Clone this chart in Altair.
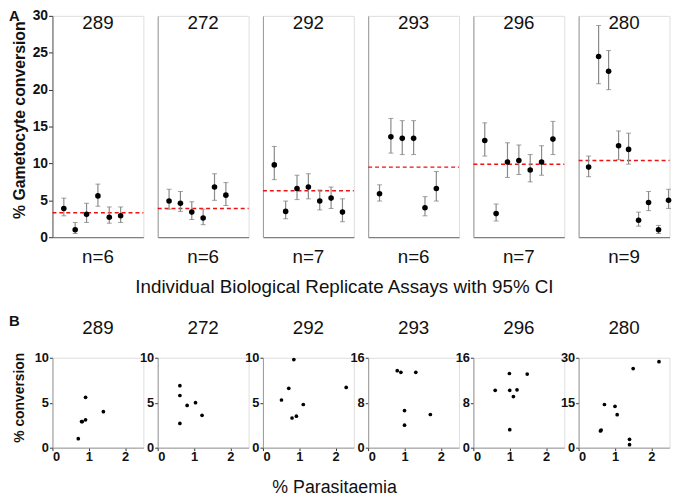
import altair as alt
import pandas as pd

panels = ["289", "272", "292", "293", "296", "280"]
n_labels = ["n=6", "n=6", "n=7", "n=6", "n=7", "n=9"]

# Panel A: % gametocyte conversion per replicate with 95% CI
conv_A = [
    [3.9, 1.0, 3.1, 5.6, 2.7, 2.9],
    [4.9, 4.6, 3.4, 2.6, 6.8, 5.7],
    [9.8, 3.5, 6.6, 6.8, 4.9, 5.3, 3.4],
    [5.9, 13.6, 13.4, 13.4, 4.0, 6.6],
    [13.1, 3.2, 10.2, 10.4, 9.1, 10.2, 13.3],
    [9.5, 24.5, 22.5, 12.4, 11.9, 2.3, 4.7, 1.0, 5.0],
]
lo_A = [
    [2.9, 0.5, 2.0, 4.2, 1.9, 2.0],
    [3.8, 3.5, 2.4, 1.7, 5.0, 4.3],
    [7.8, 2.5, 5.1, 5.2, 3.7, 3.9, 2.1],
    [4.9, 11.4, 11.2, 11.2, 2.9, 4.9],
    [11.0, 2.2, 8.1, 8.5, 7.5, 8.4, 11.2],
    [8.2, 20.8, 20.0, 10.5, 9.9, 1.5, 3.6, 0.5, 3.9],
]
hi_A = [
    [5.3, 2.0, 4.6, 7.2, 4.1, 4.1],
    [6.5, 6.2, 4.8, 3.8, 8.6, 7.4],
    [12.3, 4.9, 8.4, 8.6, 6.4, 6.8, 5.2],
    [7.1, 16.1, 15.8, 15.8, 5.5, 8.9],
    [15.5, 4.5, 12.8, 12.5, 11.2, 12.4, 15.7],
    [11.0, 28.7, 25.3, 14.4, 14.1, 3.4, 6.2, 1.6, 6.5],
]
mean_A = [3.3, 3.9, 6.3, 9.5, 9.9, 10.4]
yticks_A = [0, 5, 10, 15, 20, 25, 30]

# Panel B: % conversion vs % parasitaemia
para_B = [
    [0.71, 0.80, 0.82, 0.91, 0.91, 1.40],
    [0.61, 0.61, 0.61, 0.81, 1.04, 1.22],
    [0.85, 0.71, 0.51, 0.80, 0.92, 1.11, 2.29],
    [0.80, 0.90, 1.31, 1.00, 1.00, 1.71],
    [0.99, 1.48, 0.60, 1.00, 1.20, 1.10, 1.00],
    [0.60, 0.62, 0.71, 1.00, 1.06, 1.50, 2.21, 1.40, 1.40],
]
conv_B = [
    [1.0, 2.9, 2.9, 3.1, 5.6, 4.0],
    [6.9, 5.8, 2.7, 4.7, 5.0, 3.6],
    [9.8, 6.6, 5.3, 3.3, 3.5, 4.8, 6.7],
    [13.7, 13.4, 13.4, 6.6, 4.0, 5.9],
    [13.2, 13.1, 10.2, 10.2, 10.3, 9.1, 3.2],
    [5.6, 5.9, 14.4, 13.8, 11.0, 26.4, 28.7, 2.8, 1.0],
]
ymax_B = [10, 10, 10, 16, 16, 30]
yticks_B = [[0, 5, 10], [0, 5, 10], [0, 5, 10], [0, 8, 16], [0, 8, 16], [0, 15, 30]]
xticks_B = [0, 1, 2]

title_A = "% Gametocyte conversion"
xlabel_A = "Individual Biological Replicate Assays with 95% CI"
title_B = "% conversion"
xlabel_B = "% Parasitaemia"

FONT = "Liberation Sans"
W = 92
HA = 224
HB = 91
TXT = "#111111"


def txt(s, x, y, size, weight="normal", align="center"):
    return alt.Chart(pd.DataFrame({"t": [s]})).mark_text(
        font=FONT, fontSize=size, fontWeight=weight, align=align,
        baseline="middle", color=TXT
    ).encode(text="t:N", x=alt.value(x), y=alt.value(y))


def panel_A(i):
    n = len(conv_A[i])
    df = pd.DataFrame({"rep": list(range(1, n + 1)), "conv": conv_A[i],
                       "lo": lo_A[i], "hi": hi_A[i]})
    xdom = [0, 8] if n <= 7 else [0, n + 0.1]
    first = i == 0
    if first:
        yaxis = alt.Axis(values=yticks_A, grid=False, labelFont=FONT, labelFontWeight="bold",
                         labelFontSize=14, labelColor=TXT, tickColor="#333", tickSize=4,
                         labelPadding=1, labelOverlap=False, domainColor="#555",
                         titleFont=FONT, titleFontSize=16, titleFontWeight="bold",
                         titlePadding=5, titleColor=TXT, titleY=105)
        ytitle = title_A
    else:
        yaxis = alt.Axis(labels=False, ticks=False, grid=False, domainColor="#999")
        ytitle = None
    xaxis = alt.Axis(labels=False, ticks=False, grid=False, domainColor="#666")
    xs = alt.Scale(domain=xdom, nice=False, zero=False)
    ys = alt.Scale(domain=[0, 30], nice=False)

    def X():
        return alt.X("rep:Q", scale=xs, axis=xaxis, title=None)

    def Y(f):
        return alt.Y(f"{f}:Q", scale=ys, axis=yaxis, title=ytitle)

    base = alt.Chart(df)
    bars = base.mark_rule(color="#8a8a8a", strokeWidth=1.2).encode(x=X(), y=Y("lo"), y2="hi:Q")
    cap_lo = base.mark_tick(orient="horizontal", size=5, thickness=1, color="#777").encode(
        x=X(), y=Y("lo"))
    cap_hi = base.mark_tick(orient="horizontal", size=5, thickness=1, color="#777").encode(
        x=X(), y=Y("hi"))
    pts = base.mark_circle(size=32, color="black", opacity=1).encode(x=X(), y=Y("conv"))
    mean = alt.Chart(pd.DataFrame({"m": [mean_A[i]]})).mark_rule(
        color="#ee1111", strokeDash=[4, 3], strokeWidth=1.5
    ).encode(y=Y("m"), x=alt.value(0), x2=alt.value(W))
    layers = [mean, bars, cap_lo, cap_hi, pts,
              txt(panels[i], W / 2, 7, 19),
              txt(n_labels[i], W / 2, HA + 20, 19)]
    if first:
        layers.append(txt("A", -44, 0, 15, "bold", "left"))
        layers.append(txt(xlabel_A, 295.5, HA + 50, 19))
    return alt.layer(*layers).properties(width=W, height=HA)


def panel_B(i):
    df = pd.DataFrame({"para": para_B[i], "conv": conv_B[i]})
    first = i == 0
    yaxis = alt.Axis(values=yticks_B[i], grid=False, labelFont=FONT, labelFontWeight="bold",
                     labelFontSize=13, labelColor=TXT, tickColor="#333", tickSize=3,
                     labelPadding=1, labelOverlap=False, domainColor="#999",
                     titleFont=FONT, titleFontSize=14, titleFontWeight="bold",
                     titlePadding=8, titleColor=TXT, titleY=40)
    xaxis = alt.Axis(values=xticks_B, grid=False, labelFont=FONT, labelFontWeight="bold",
                     labelFontSize=13, labelColor=TXT, tickColor="#333", tickSize=3,
                     labelPadding=0, labelOverlap=False, domainColor="#999")
    pts = alt.Chart(df).mark_circle(size=14, color="black", opacity=1).encode(
        x=alt.X("para:Q", scale=alt.Scale(domain=[0, 2.5], nice=False), axis=xaxis, title=None),
        y=alt.Y("conv:Q", scale=alt.Scale(domain=[0, ymax_B[i]], nice=False), axis=yaxis,
                title=title_B if first else None),
    )
    layers = [pts, txt(panels[i], W / 2, -30, 19)]
    if first:
        layers.append(txt("B", -44, -37, 15, "bold", "left"))
        layers.append(txt(xlabel_B, 285.5, HB + 41, 18))
    return alt.layer(*layers).properties(width=W, height=HB)


cells = [panel_A(i) for i in range(6)] + [panel_B(i) for i in range(6)]

chart = alt.concat(
    *cells, columns=6, spacing=alt.RowColnumber(row=122, column=14.5),
    bounds="flush", padding={"top": -3, "left": 0, "right": 0, "bottom": 0}
).resolve_scale(x="independent", y="independent").configure_view(
    stroke=None).configure(background="white")

chart.save("out.html", embed_options={"renderer": "svg", "actions": False})
